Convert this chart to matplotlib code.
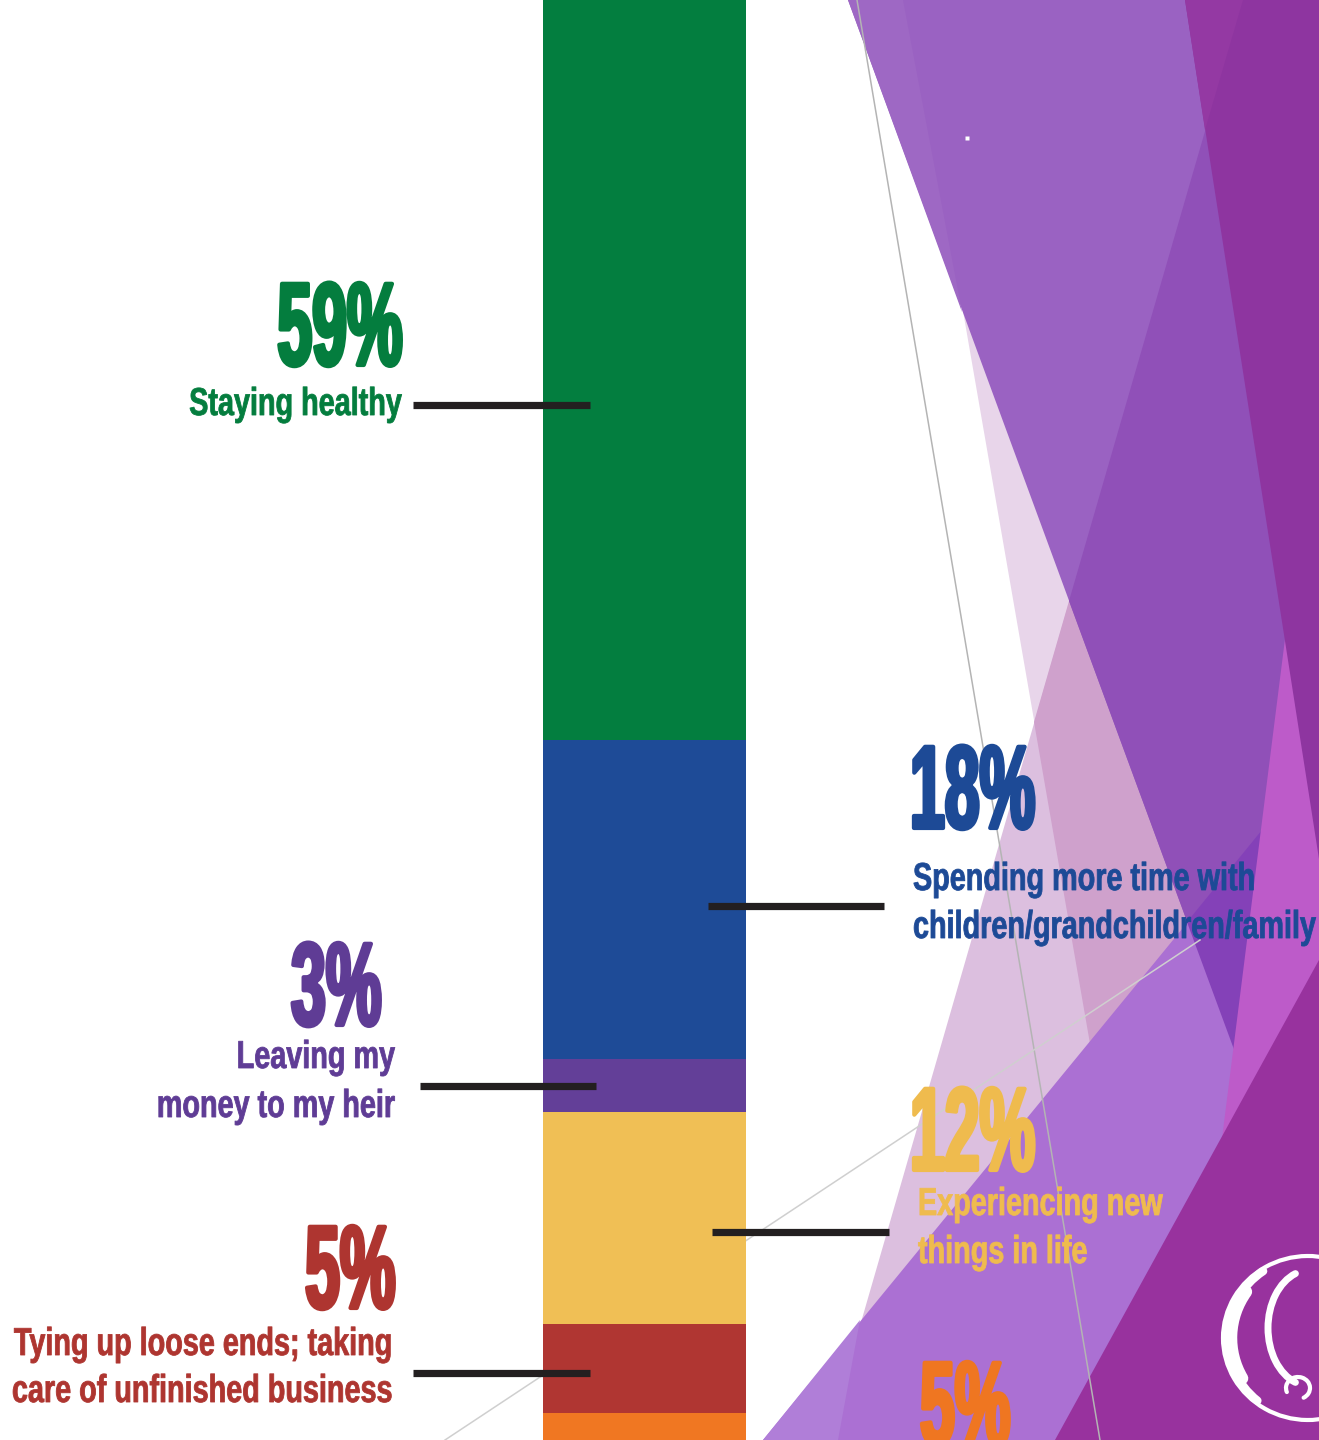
"""Stacked share bar with call-out labels over a faceted purple backdrop."""

import matplotlib

matplotlib.use("Agg")
import matplotlib.pyplot as plt
import numpy as np
from matplotlib import font_manager
from matplotlib.patches import Arc, Polygon
from matplotlib.patheffects import AbstractPathEffect
from matplotlib.text import Text
from matplotlib.transforms import Affine2D, Bbox

# --- data -----------------------------------------------------------------
categories = [
    "Staying healthy",
    "Spending more time with children/grandchildren/family",
    "Leaving my money to my heir",
    "Experiencing new things in life",
    "Tying up loose ends; taking care of unfinished business",
    "",
]
shares = [59, 18, 3, 12, 5, 5]
pct_labels = [f"{s}%" for s in shares]
colors = ["#037e3f", "#1e4b97", "#633f98", "#f0bf55", "#b03632", "#f07722"]
text_colors = ["#047d3e", "#1d4a96", "#5f3c95", "#efbb4e", "#ae3530", "#ef7621"]
label_lines = [
    ["Staying healthy"],
    ["Spending more time with", "children/grandchildren/family"],
    ["Leaving my", "money to my heir"],
    ["Experiencing new", "things in life"],
    ["Tying up loose ends; taking", "care of unfinished business"],
    [],
]

# --- layout (pixel space, y grows downward) ---------------------------------
W, H = 1319, 1440
BAR_X, BAR_W = 644.5, 203
Y_VIEW = (98.53, 17.22)  # the bar is cropped: visible share range, bottom/top
# side, anchor x of percentage, its baseline, label x, label baselines, leader
callouts = [
    ("right", 404, 365, 402, [415], (413, 590, 405)),
    ("left", 910, 828, 913, [890, 938], (708, 884, 906)),
    ("right", 383, 1025, 395, [1068, 1117], (420, 596, 1086)),
    ("left", 910, 1170, 918, [1215, 1263], (712, 889, 1232)),
    ("right", 397, 1308, 393, [1355, 1402], (413, 590, 1373)),
    ("left", 920, 1444, 920, [], None),
]

backdrop = [
    ("#e8d5ea", [(909, 0), (1319, 0), (1319, 1440), (1159, 1440)]),
    ("#dcbfdf", [(1243, 0), (1319, 0), (1319, 1440), (827, 1440)]),
    ("#cfa1cc", [(1243, 0), (1319, 0), (1319, 1440), (1159, 1440), (1034, 722)]),
    ("#9a62c2", [(848, 0), (1319, 0), (1319, 1280)]),
    ("#9e68c4", [(848, 0), (903, 0), (962, 312)]),
    ("#9050b8", [(1243, 0), (1319, 0), (1319, 1280), (1069, 601)]),
    ("#ab70d3", [(763, 1440), (1319, 762), (1319, 1440)]),
    ("#b07ed8", [(763, 1440), (860, 1320), (838, 1440)]),
    ("#8441b8", [(1187, 922), (1319, 760), (1319, 1280)]),
    ("#bd5bc9", [(1300, 520), (1319, 470), (1319, 1440), (1184, 1440)]),
    ("#8e35a0", [(1185, 0), (1319, 0), (1319, 859)]),
    ("#9439a3", [(1185, 0), (1243, 0), (1205, 130)]),
    ("#98329e", [(1055, 1440), (1319, 960), (1319, 1440)]),
]
hairlines = [((857, 1100), (0, 1440), "#b4b4b4"), ((445, 1200), (1440, 940), "#cfcfcf")]

installed = {f.name for f in font_manager.fontManager.ttflist}
NARROW = "Liberation Sans Narrow" in installed
FAMILY = ["Liberation Sans Narrow" if NARROW else "Liberation Sans", "DejaVu Sans"]
SX_LABEL = 0.90 if NARROW else 0.74
SX_PCT = 0.64 if NARROW else 0.53


class Squeeze(AbstractPathEffect):
    """Condense glyphs horizontally around the text's anchored edge."""

    def __init__(self, sx, pivot="left", stroke=0.0):
        super().__init__()
        self.sx, self.pivot, self.stroke = sx, pivot, stroke

    def draw_path(self, renderer, gc, tpath, affine, rgbFace=None):
        ext = tpath.get_extents()
        px = ext.x1 if self.pivot == "right" else 0.0
        squeeze = Affine2D().translate(-px, 0).scale(self.sx, 1).translate(px, 0)
        gc0 = renderer.new_gc()
        gc0.copy_properties(gc)
        if self.stroke:
            gc0.set_linewidth(self.stroke)
            gc0.set_foreground(rgbFace)
            gc0.set_joinstyle("round")
        renderer.draw_path(gc0, tpath, squeeze + affine, rgbFace)
        gc0.restore()


class CondensedText(Text):
    """Text whose reported extent matches the squeezed drawing."""

    def __init__(self, x, y, s, sx=1.0, stroke=0.0, **kwargs):
        self._sx = sx
        ha = kwargs.get("ha", "left")
        kwargs["path_effects"] = [Squeeze(sx, ha, stroke)]
        super().__init__(x, y, s, **kwargs)

    def get_window_extent(self, renderer=None, dpi=None):
        bb = super().get_window_extent(renderer, dpi)
        w = bb.width * self._sx
        if self.get_horizontalalignment() == "right":
            return Bbox.from_extents(bb.x1 - w, bb.y0, bb.x1, bb.y1)
        return Bbox.from_extents(bb.x0, bb.y0, bb.x0 + w, bb.y1)


fig = plt.figure(figsize=(W / 100, H / 100), dpi=100)
fig.patch.set_facecolor("white")

ax_bg = fig.add_axes([0, 0, 1, 1])
ax_bar = fig.add_axes([0, 0, 1, 1])
ax_top = fig.add_axes([0, 0, 1, 1])
for ax in (ax_bg, ax_top):
    ax.set_xlim(0, W)
    ax.set_ylim(H, 0)
for ax in (ax_bg, ax_bar, ax_top):
    ax.axis("off")
    ax.patch.set_alpha(0)

for color, verts in backdrop:
    ax_bg.add_patch(Polygon(verts, closed=True, facecolor=color, edgecolor="none"))
for xs, ys, c in hairlines:
    ax_bg.plot(xs, ys, color=c, lw=1.1)
ax_bg.plot([967], [138], marker="s", ms=3, color="white", mec="none")

# logo (white calligraphic loop, mostly cropped at the right edge)
logo = [
    ((1308, 1338), 170, 164, 60, 300, 3),
    ((1310, 1338), 166, 162, 130, 235, 6),
    ((1312, 1338), 162, 160, 150, 215, 9),
    ((1310, 1328), 84, 116, 105, 255, 5),
    ((1298, 1388), 24, 22, 160, 420, 3),
]
for centre, w, h, t1, t2, lw in logo:
    arc = Arc(centre, w, h, theta1=t1, theta2=t2, color="white", lw=lw)
    arc.set_capstyle("round")
    ax_bg.add_patch(arc)

# stacked bar, drawn in share units
bottoms = np.concatenate([[0], np.cumsum(shares)[:-1]])
ax_bar.bar(BAR_X, shares, bottom=bottoms, width=BAR_W, color=colors, linewidth=0)
ax_bar.set_xlim(0, W)
ax_bar.set_ylim(*Y_VIEW)

for (side, px, pby, lx, lbys, leader), pct, lines, tc in zip(
    callouts, pct_labels, label_lines, text_colors
):
    ax_top.add_artist(CondensedText(
        px, pby, pct, sx=SX_PCT, stroke=3.0, ha=side, va="baseline", color=tc,
        fontsize=85, fontweight="bold", family=FAMILY,
    ))
    for line, by in zip(lines, lbys):
        ax_top.add_artist(CondensedText(
            lx, by, line, sx=SX_LABEL, stroke=0.6, ha=side, va="baseline",
            color=tc, fontsize=28, fontweight="bold", family=FAMILY,
        ))
    if leader:
        x0, x1, y = leader
        ax_top.plot([x0, x1], [y, y], color="#231f20", lw=5.2, solid_capstyle="butt")

fig.savefig("out.png", dpi=100)
plt.close(fig)
